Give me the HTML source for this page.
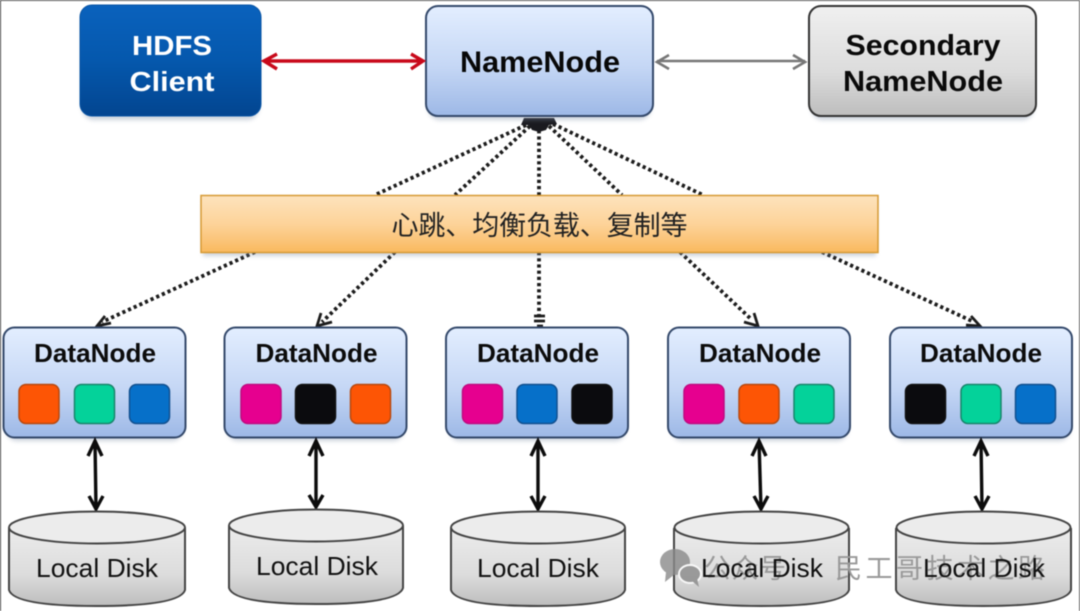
<!DOCTYPE html>
<html><head><meta charset="utf-8">
<style>
html,body{margin:0;padding:0;background:#fff;width:1080px;height:611px;overflow:hidden}
svg{display:block;filter:blur(.45px)}
text{font-family:"Liberation Sans","Noto Sans CJK SC",sans-serif;text-anchor:middle}
.b{font-weight:bold}
.dn{font-weight:bold;font-size:26px;fill:#0c0c0c}
.ld{font-size:26px;fill:#111}
.box{stroke:#34496b;stroke-width:2}
.dot{fill:none;stroke:#1c1c1c;stroke-width:3.8;stroke-dasharray:3.2 3}
.ah{fill:none;stroke:#1c1c1c;stroke-width:2.8}
.bk{fill:none;stroke:#0c0c0c;stroke-width:3.4}
.disk{fill:url(#gd);stroke:#444;stroke-width:2}
.top{fill:#ececec;stroke:#444;stroke-width:2}
.sq{stroke-width:1.5}
.o{fill:#fd5505;stroke:#b8490f}
.g{fill:#04d29a;stroke:#18856b}
.u{fill:#0670c9;stroke:#12508f}
.m{fill:#e6008f;stroke:#c00a80}
.k{fill:#0b0b0e;stroke:#111}
.s{fill:#7f8fa8;opacity:.4;filter:url(#sh)}
</style></head>
<body>
<svg width="1080" height="611" viewBox="0 0 1080 611" xmlns="http://www.w3.org/2000/svg">
<defs>
<linearGradient id="gb" x1="0" y1="0" x2="0" y2="1"><stop offset="0" stop-color="#e3eeff"/><stop offset=".55" stop-color="#c5d7f5"/><stop offset="1" stop-color="#9db8e6"/></linearGradient>
<linearGradient id="gh" x1="0" y1="0" x2="0" y2="1"><stop offset="0" stop-color="#0a62bd"/><stop offset=".5" stop-color="#0558ad"/><stop offset="1" stop-color="#034590"/></linearGradient>
<linearGradient id="gs" x1="0" y1="0" x2="0" y2="1"><stop offset="0" stop-color="#f0f0f0"/><stop offset=".6" stop-color="#dcdcdc"/><stop offset="1" stop-color="#bdbdbd"/></linearGradient>
<linearGradient id="go" x1="0" y1="0" x2="0" y2="1"><stop offset="0" stop-color="#fde3bd"/><stop offset=".5" stop-color="#fdd399"/><stop offset="1" stop-color="#f9b95f"/></linearGradient>
<linearGradient id="gd" x1="0" y1="0" x2="0" y2="1"><stop offset="0" stop-color="#ececec"/><stop offset=".6" stop-color="#dcdcdc"/><stop offset="1" stop-color="#bdbdbd"/></linearGradient>
<filter id="sh" x="-5%" y="-10%" width="110%" height="125%"><feGaussianBlur stdDeviation="2"/></filter>
</defs>

<rect x="0" y="0" width="1080" height="1" fill="#555"/>
<rect x="0" y="0" width="1" height="611" fill="#444"/>
<rect x="1079" y="0" width="1" height="611" fill="#666"/>

<!-- dotted connectors -->
<path class="dot" d="M526 125L375 195M530 126L455 195M539 124V195M549 126L622 195M553 124L703 195"/>
<path class="dot" d="M255 252L102 322M395 252L322 322M539 252V322M680 252L752 320M822 252L974 322"/>
<path d="M524 118L554 118L557 124L549 125L546 130L539 132L532 130L529 125L521 125Z" fill="#1a1a1f"/>
<path class="ah" d="M105 316L97 326L111 323"/>
<path class="ah" d="M321 313L317 326L332 322"/>
<path class="ah" d="M534 316H545M534 321H545M537 326H543"/>
<path class="ah" d="M754 313L758 326L744 322"/>
<path class="ah" d="M971 316L980 326L966 325"/>

<!-- shadows -->
<rect class="s" x="82" y="10" width="177" height="110" rx="12"/>
<rect class="s" x="428" y="10" width="223" height="110" rx="12"/>
<rect class="s" x="811" y="10" width="223" height="110" rx="12"/>
<rect class="s" x="203" y="200" width="673" height="56"/>
<rect class="s" x="6" y="332" width="177" height="109" rx="11"/>
<rect class="s" x="227" y="332" width="177" height="109" rx="11"/>
<rect class="s" x="449" y="332" width="177" height="109" rx="11"/>
<rect class="s" x="671" y="332" width="177" height="109" rx="11"/>
<rect class="s" x="893" y="332" width="177" height="109" rx="11"/>

<!-- top boxes -->
<rect x="80" y="5" width="181" height="111" rx="12" fill="url(#gh)" stroke="#0a55a5"/>
<rect x="426" y="6" width="227" height="110" rx="12" fill="url(#gb)" class="box"/>
<rect x="809" y="6" width="227" height="110" rx="12" fill="url(#gs)" stroke="#333" stroke-width="2"/>
<text x="172" y="55" class="b" font-size="28" fill="#fff" textLength="80" lengthAdjust="spacingAndGlyphs">HDFS</text>
<text x="172" y="91" class="b" font-size="28" fill="#fff" textLength="85" lengthAdjust="spacingAndGlyphs">Client</text>
<text x="540" y="72" class="b" font-size="30" fill="#080808" textLength="160" lengthAdjust="spacingAndGlyphs">NameNode</text>
<text x="923" y="55" class="b" font-size="29" fill="#0a0a0a" textLength="155" lengthAdjust="spacingAndGlyphs">Secondary</text>
<text x="923" y="91" class="b" font-size="29" fill="#0a0a0a" textLength="160" lengthAdjust="spacingAndGlyphs">NameNode</text>

<path d="M265 61H423M277 54L264 61L277 69M411 54L423 61L411 69" fill="none" stroke="#c8091a" stroke-width="3.4"/>
<path d="M657 61H805M669 55L657 62L669 69M793 55L805 62L793 69" fill="none" stroke="#777" stroke-width="2.6"/>

<!-- banner -->
<rect x="201" y="195.500" width="677" height="57" fill="url(#go)" stroke="#d69a35" stroke-width="1.500"/>
<text x="539.500" y="235" font-size="27" fill="#222" textLength="296" lengthAdjust="spacing">心跳、均衡负载、复制等</text>

<!-- data nodes -->
<rect x="3.500" y="327.500" width="182" height="110" rx="11" fill="url(#gb)" class="box"/>
<rect x="224.500" y="327.500" width="182" height="110" rx="11" fill="url(#gb)" class="box"/>
<rect x="446" y="327.500" width="182" height="110" rx="11" fill="url(#gb)" class="box"/>
<rect x="668" y="327.500" width="182" height="110" rx="11" fill="url(#gb)" class="box"/>
<rect x="890" y="327.500" width="182" height="110" rx="11" fill="url(#gb)" class="box"/>
<text x="95" y="362" class="dn" textLength="122" lengthAdjust="spacingAndGlyphs">DataNode</text>
<text x="316.500" y="362" class="dn" textLength="122" lengthAdjust="spacingAndGlyphs">DataNode</text>
<text x="538" y="362" class="dn" textLength="122" lengthAdjust="spacingAndGlyphs">DataNode</text>
<text x="760" y="362" class="dn" textLength="122" lengthAdjust="spacingAndGlyphs">DataNode</text>
<text x="981" y="362" class="dn" textLength="122" lengthAdjust="spacingAndGlyphs">DataNode</text>

<rect class="sq o" x="19" y="384.500" width="40" height="39" rx="7"/>
<rect class="sq g" x="74.500" y="384.500" width="40" height="39" rx="7"/>
<rect class="sq u" x="129.500" y="384.500" width="40" height="39" rx="7"/>
<rect class="sq m" x="241" y="384.500" width="40" height="39" rx="7"/>
<rect class="sq k" x="295.500" y="384.500" width="40" height="39" rx="7"/>
<rect class="sq o" x="350.500" y="384.500" width="40" height="39" rx="7"/>
<rect class="sq m" x="462.500" y="384.500" width="40" height="39" rx="7"/>
<rect class="sq u" x="517" y="384.500" width="40" height="39" rx="7"/>
<rect class="sq k" x="572" y="384.500" width="40" height="39" rx="7"/>
<rect class="sq m" x="684" y="384.500" width="40" height="39" rx="7"/>
<rect class="sq o" x="739" y="384.500" width="40" height="39" rx="7"/>
<rect class="sq g" x="794" y="384.500" width="40" height="39" rx="7"/>
<rect class="sq k" x="905.500" y="384.500" width="40" height="39" rx="7"/>
<rect class="sq g" x="961" y="384.500" width="40" height="39" rx="7"/>
<rect class="sq u" x="1015.500" y="384.500" width="40" height="39" rx="7"/>

<!-- black arrows -->
<path class="bk" d="M95 441L96 509M88 456L95 441L102 456M89 496L96 509L103 496"/>
<path class="bk" d="M316 441V507M309 456L316 441L323 456M309 495L316 507L323 495"/>
<path class="bk" d="M538 441V509M531 456L538 441L545 456M531 496L538 509L545 496"/>
<path class="bk" d="M759 441L761 509M752 456L759 441L766 456M754 496L761 509L768 496"/>
<path class="bk" d="M981 441L982 509M974 456L981 441L988 456M975 496L982 509L989 496"/>

<!-- disks -->
<g><path class="disk" d="M9 528V590Q14 606 96 606Q180 606 185 590V528"/><ellipse class="top" cx="97" cy="527.500" rx="88" ry="16"/></g>
<g><path class="disk" d="M229 526V588Q234 604 316 604Q398 604 403 588V526"/><ellipse class="top" cx="316" cy="525.500" rx="87" ry="16"/></g>
<g><path class="disk" d="M451 528V590Q456 606 538 606Q620 606 625 590V528"/><ellipse class="top" cx="538" cy="527.500" rx="87" ry="16"/></g>
<g><path class="disk" d="M674 528V590Q679 606 761 606Q844 606 849 590V528"/><ellipse class="top" cx="761.500" cy="527.500" rx="87" ry="16"/></g>
<g><path class="disk" d="M896 528V590Q901 606 983 606Q1066 606 1071 590V528"/><ellipse class="top" cx="983.500" cy="527.500" rx="87" ry="16"/></g>

<!-- watermark -->
<g fill="#8a8a8a" opacity=".8">
<ellipse cx="675" cy="562" rx="15" ry="13"/><path d="M666 572L665 582L675 574Z"/>
<ellipse cx="690" cy="574" rx="11" ry="9" stroke="#fff" stroke-width="2"/><path d="M692 581L699 587L697 578Z"/>
</g>
<text x="745" y="578" font-size="27" fill="#999" textLength="82">公众号</text>
<text x="940" y="578" font-size="27" fill="#999" textLength="210">民工哥技术之路</text>

<text x="97" y="577" class="ld" textLength="122" lengthAdjust="spacingAndGlyphs">Local Disk</text>
<text x="317" y="575" class="ld" textLength="122" lengthAdjust="spacingAndGlyphs">Local Disk</text>
<text x="538" y="577" class="ld" textLength="122" lengthAdjust="spacingAndGlyphs">Local Disk</text>
<text x="762" y="577" class="ld" textLength="122" lengthAdjust="spacingAndGlyphs">Local Disk</text>
<text x="984" y="577" class="ld" textLength="122" lengthAdjust="spacingAndGlyphs">Local Disk</text>
</svg>
</body></html>
